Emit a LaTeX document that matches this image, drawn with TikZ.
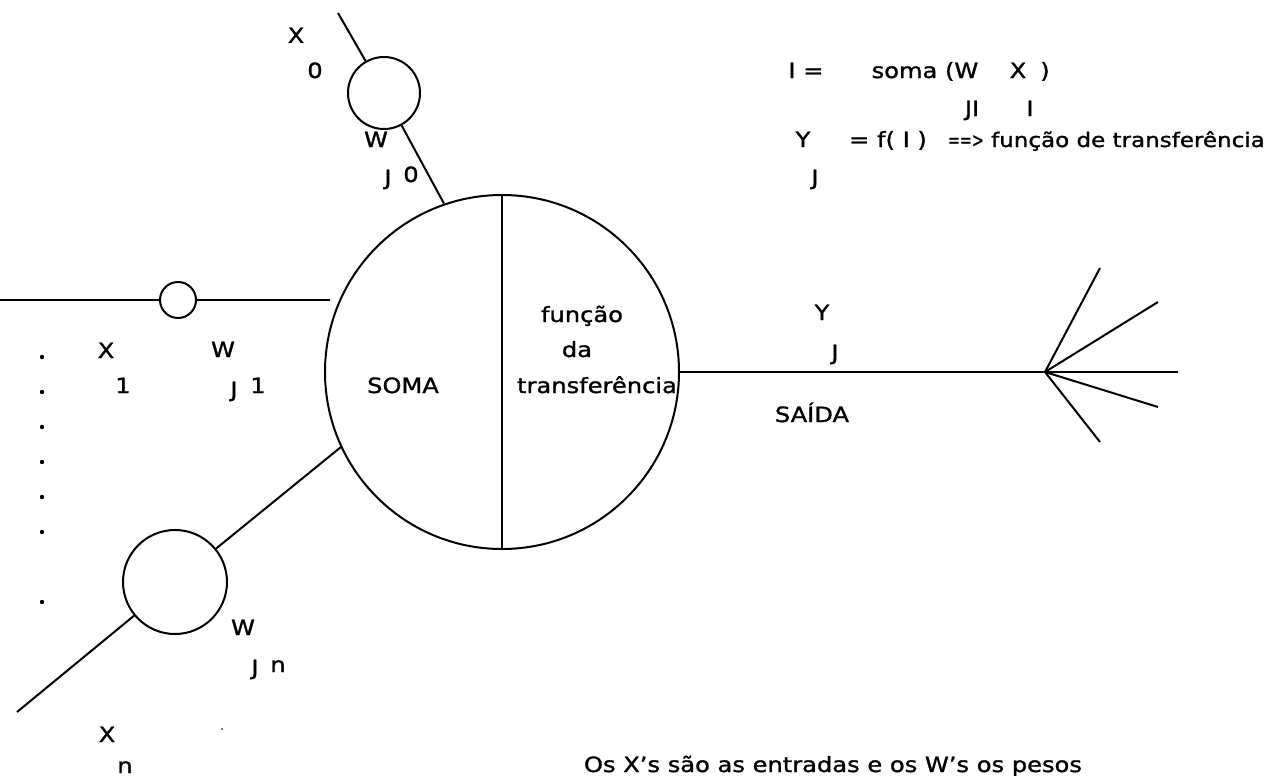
\documentclass[tikz,border=0pt]{standalone}
\usepackage{fontspec}
\setmainfont[FakeStretch=1.15,FakeBold=1.3]{DejaVu Sans}
\begin{document}
\begin{tikzpicture}[x=1pt,y=-1pt,line width=2pt,
  lbl/.style={inner sep=0pt,anchor=base,font=\fontsize{21}{25}\selectfont},
  lblw/.style={lbl,anchor=base west},
  ring/.style={circle,draw,inner sep=0pt,line width=2pt}]
\useasboundingbox (0,0) rectangle (1280,776);

% circles
\node[ring,minimum size=72pt]  (c0)  at (384,93)  {};
\node[ring,minimum size=36pt]  (c1)  at (178,300) {};
\node[ring,minimum size=104pt] (cn)  at (175,582) {};
\node[ring,minimum size=354pt] (big) at (502,372) {};
\draw (big.north) -- (big.south);

% input connectors
\coordinate (a0) at (338,13);
\coordinate (a1) at (0,300);
\coordinate (e1) at (330,300);
\coordinate (an) at (17,712);
\draw (a0) -- (c0) -- (big.109);
\draw (a1) -- (c1) -- (e1);
\draw (an) -- (cn) -- (big.205);

% output and fan
\coordinate (fan) at (1045,372);
\coordinate (o1) at (1100,268);
\coordinate (o2) at (1158,302);
\coordinate (o3) at (1158,407);
\coordinate (o4) at (1100,442);
\coordinate (o5) at (1178,372);
\draw (big) -- (fan) -- (o5);
\draw (fan) -- (o1);
\draw (fan) -- (o2);
\draw (fan) -- (o3);
\draw (fan) -- (o4);

% dots
\foreach \yy/\nm in {357/d1,392/d2,427/d3,462/d4,497/d5,532/d6,602/d7}
  \fill (42,\yy) circle (2.2pt) coordinate (\nm);
\fill (222,729) circle (0.9pt) coordinate (speck);

% labels near inputs
\node[lbl] (x0)  at (296,43)  {X};
\node[lbl] (x0s) at (315,78)  {0};
\node[lbl] (w0)  at (376,147) {W};
\node[lbl] (w0j) at (388,185) {J};
\node[lbl] (w0s) at (411,182) {0};

\node[lbl] (x1)  at (106,358) {X};
\node[lbl] (x1s) at (123,393) {1};
\node[lbl] (w1)  at (223,357) {W};
\node[lbl] (w1j) at (234,397) {J};
\node[lbl] (w1s) at (258,393) {1};

\node[lbl] (wn)  at (243,635) {W};
\node[lbl] (wnj) at (255,675) {J};
\node[lbl] (wns) at (278,672) {n};
\node[lbl] (xn)  at (107,742) {X};
\node[lbl] (xns) at (125,773) {n};

% inside circle
\node[lbl] (soma) at (403,393) {SOMA};
\node[lbl] (f1) at (582,322) {função};
\node[lbl] (f2) at (577,357) {da};
\node[lbl] (f3) at (597,393) {transferência};

% output labels
\node[lbl] (yo)  at (822,320) {Y};
\node[lbl] (yoj) at (835,360) {J};
\node[lbl] (said) at (812,422) {SAÍDA};

% formula
\node[lbl] (r1a) at (806,78) {I =};
\node[lbl] (r1b) at (925,78) {soma (W};
\node[lbl] (r1c) at (1018,78) {X};
\node[lbl] (r1d) at (1045,78) {)};
\node[lbl] (r2a) at (972,116) {JI};
\node[lbl] (r2b) at (1030,116) {I};
\node[lbl] (r3a) at (803,147) {Y};
\node[lbl] (r3b) at (888,147) {= f( I )};
\node[lblw,font=\fontsize{20}{24}\selectfont] (r3c) at (947,147) {\scalebox{0.62}[1]{==>} função de transferência};
\node[lbl] (r4a) at (815,185) {J};

% bottom note
\node[lblw] (note) at (583,772) {Os X's são as entradas e os W's os pesos};
\end{tikzpicture}
\end{document}
